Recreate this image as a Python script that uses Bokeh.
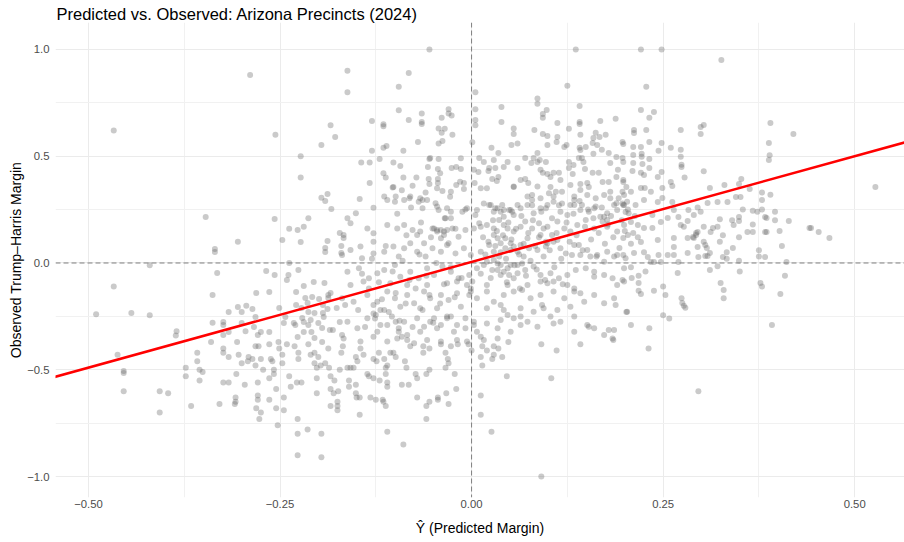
from bokeh.plotting import figure
from bokeh.models import FixedTicker, Span, Slope, ColumnDataSource, Range1d
from bokeh.embed import file_html
from bokeh.resources import INLINE

# ---------------- data ----------------
title_text = "Predicted vs. Observed: Arizona Precincts (2024)"
x_ticks = [-0.5, -0.25, 0.0, 0.25, 0.5]
x_tick_labels = ["\u22120.50", "\u22120.25", "0.00", "0.25", "0.50"]
x_minor = [-0.375, -0.125, 0.125, 0.375]
y_ticks = [-1.0, -0.5, 0.0, 0.5, 1.0]
y_tick_labels = ["\u22121.0", "\u22120.5", "0.0", "0.5", "1.0"]
y_minor = [-0.75, -0.25, 0.25, 0.75]

fit_intercept = 0.005
fit_slope = 0.99

# (predicted margin, observed margin) pairs, grouped by region of the chart
pts_left_tail = [
(-0.467,0.62),(-0.49,-0.24),(-0.467,-0.11),(-0.444,-0.234),(-0.42,-0.01),(-0.42,-0.245),
(-0.462,-0.43),(-0.454,-0.506),(-0.454,-0.515),(-0.454,-0.60),(-0.407,-0.60),(-0.396,-0.61),(-0.407,-0.70),
(-0.386,-0.34),(-0.385,-0.32),(-0.373,-0.49),(-0.373,-0.53),(-0.358,-0.42),(-0.358,-0.46),(-0.355,-0.50),
(-0.351,-0.51),(-0.355,-0.55),(-0.366,-0.67),(-0.34,-0.37),(-0.329,-0.66),(-0.324,-0.40),(-0.324,-0.42),
(-0.317,-0.44),(-0.306,-0.37),(-0.304,-0.43),(-0.324,-0.56),(-0.317,-0.56),(-0.307,-0.52),(-0.309,-0.66),
(-0.308,-0.65),(-0.308,-0.63),(-0.30,-0.47),(-0.296,-0.57),(-0.292,-0.46),(-0.291,-0.44),(-0.286,-0.45),
(-0.282,-0.48),(-0.279,-0.56),(-0.279,-0.62),(-0.279,-0.64),(-0.281,-0.68),(-0.275,-0.70),(-0.277,-0.73),
(-0.282,-0.39),(-0.278,-0.39),(-0.275,-0.45),(-0.272,-0.50),(-0.264,-0.38),(-0.262,-0.45),(-0.26,-0.46),
(-0.258,-0.50),(-0.258,-0.52),(-0.264,-0.54),(-0.264,-0.64),(-0.255,-0.59),(-0.255,-0.68),(-0.253,-0.76),
(-0.252,-0.37),(-0.251,-0.40),(-0.247,-0.43),(-0.247,-0.47),(-0.245,-0.63),(-0.245,-0.69),(-0.241,-0.38),
(-0.238,-0.53),(-0.236,-0.58),(-0.231,-0.39),(-0.228,-0.56),(-0.226,-0.42),(-0.226,-0.45),(-0.222,-0.56),
(-0.227,-0.73),(-0.227,-0.80),(-0.214,-0.78),(-0.227,-0.90),(-0.196,-0.80),(-0.196,-0.91),(-0.213,-0.38),
(-0.21,-0.43),(-0.205,-0.42),(-0.205,-0.47),(-0.202,-0.49),(-0.20,-0.44),(-0.202,-0.54),(-0.202,-0.61),
(-0.195,-0.37),(-0.197,-0.48),(-0.191,-0.47),(-0.187,-0.40),(-0.186,-0.49),(-0.184,-0.53),(-0.184,-0.59),
(-0.184,-0.67),(-0.179,-0.55),(-0.175,-0.65),(-0.175,-0.67),(-0.175,-0.69),(-0.18,-0.61),(-0.174,-0.60),
(-0.172,-0.50),(-0.17,-0.42),(-0.168,-0.39),
]

pts_lower_mid = [
(-0.162,-0.49),(-0.158,-0.49),(-0.154,-0.49),(-0.149,-0.46),(-0.151,-0.44),(-0.145,-0.40),(-0.141,-0.43),
(-0.16,-0.55),(-0.16,-0.58),(-0.151,-0.57),(-0.151,-0.61),(-0.15,-0.63),(-0.146,-0.63),(-0.146,-0.71),
(-0.136,-0.52),(-0.134,-0.53),(-0.128,-0.54),(-0.132,-0.63),(-0.125,-0.64),(-0.128,-0.45),(-0.121,-0.42),
(-0.124,-0.46),(-0.12,-0.55),(-0.116,-0.64),(-0.115,-0.65),(-0.112,-0.67),(-0.114,-0.45),(-0.112,-0.49),
(-0.112,-0.52),(-0.11,-0.48),(-0.11,-0.56),(-0.11,-0.58),(-0.106,-0.42),(-0.102,-0.42),(-0.099,-0.44),
(-0.11,-0.79),(-0.089,-0.85),(-0.091,-0.57),(-0.082,-0.57),(-0.087,-0.46),(-0.085,-0.49),(-0.08,-0.39),
(-0.073,-0.52),(-0.071,-0.54),(-0.071,-0.63),(-0.063,-0.39),(-0.063,-0.42),(-0.059,-0.52),(-0.055,-0.50),
(-0.055,-0.40),(-0.059,-0.67),(-0.059,-0.73),(-0.055,-0.65),(-0.044,-0.63),(-0.044,-0.64),(-0.04,-0.38),
(-0.034,-0.42),(-0.031,-0.45),(-0.03,-0.47),(-0.034,-0.49),(-0.033,-0.61),(-0.03,-0.66),(-0.027,-0.39),
(-0.022,-0.52),(-0.02,-0.59),(-0.018,-0.38),(-0.004,-0.38),(0.0,-0.41),(0.012,-0.62),(0.012,-0.71),
(0.014,-0.39),(0.012,-0.44),(0.014,-0.48),(0.02,-0.41),(0.026,-0.79),(0.027,-0.45),(0.029,-0.43),
(0.029,-0.39),(0.035,-0.40),(0.04,-0.44),(0.046,-0.53),(0.048,-0.37),(0.091,-0.38),(0.111,-0.41),
(0.104,-0.54),(0.091,-1.0),(0.142,-0.38),(0.185,-0.36),(0.231,-0.40),(0.296,-0.60),
]

pts_right = [
(0.527,0.356),(0.441,0.164),(0.443,0.164),(0.453,0.145),(0.467,0.117),(0.414,0.197),(0.405,0.08),
(0.409,-0.06),(0.403,-0.145),(0.392,-0.29),(0.396,0.24),(0.396,0.20),(0.402,0.15),(0.411,0.005),
(0.39,0.32),(0.379,0.33),(0.379,0.295),(0.379,0.25),(0.383,0.215),(0.385,0.211),(0.383,0.145),
(0.385,0.145),(0.375,0.06),(0.375,0.03),(0.383,0.028),(0.377,-0.094),(0.379,-0.11),(0.373,0.24),
(0.367,0.245),(0.36,0.145),(0.367,0.145),(0.367,0.18),(0.354,0.25),(0.349,0.215),(0.349,0.197),
(0.349,0.12),(0.349,0.01),(0.35,-0.04),(0.34,0.20),(0.342,0.178),(0.341,0.07),(0.328,0.13),(0.324,0.1),
(0.324,0.205),(0.321,0.17),(0.315,0.164),(0.312,0.145),(0.333,0.05),(0.333,0.02),(0.328,0.028),
(0.321,-0.015),(0.311,-0.033),(0.311,0.047),(0.308,0.033),(0.305,0.033),(0.307,0.07),(0.303,0.1),
(0.305,0.084),(0.296,0.028),(0.295,0.075),(0.295,0.145),(0.293,0.131),(0.29,0.117),(0.293,0.141),
(0.303,0.17),(0.299,0.24),(0.295,0.26),(0.289,0.122),(0.282,0.117),(0.282,0.047),(0.27,0.005),
(0.269,-0.047),(0.277,0.17),(0.273,0.178),(0.27,0.215),(0.282,0.197),(0.264,0.117),(0.264,0.075),
(0.264,0.037),(0.256,0.037),(0.244,0.037),(0.247,0.005),(0.238,0.005),(0.25,-0.11),(0.253,-0.15),
(0.238,-0.13),(0.274,-0.165),(0.275,-0.187),(0.277,-0.20),(0.279,-0.21),(0.25,-0.245),(0.258,-0.26),
(0.232,-0.305),(0.208,-0.29),(0.202,-0.23),(0.197,-0.08),(0.209,-0.07),(0.218,-0.06),(0.218,-0.094),
(0.218,-0.13),(0.221,-0.145),(0.208,-0.02),(0.227,-0.04),(0.234,0.005),(0.23,0.028),(0.225,0.05),
(0.212,0.047),(0.198,0.037),(0.325,-0.094),(0.329,-0.126),(0.329,-0.165),
(0.345,0.309),(0.351,0.309),(0.334,0.286),(0.321,0.286),(0.308,0.281),(0.262,0.286),(0.264,0.248),
(0.256,0.211),(0.247,0.192),(0.236,0.225),(0.236,0.164),(0.243,0.108),(0.225,0.164),(0.221,0.098),
(0.211,0.141),(0.204,0.131),(0.198,0.117),(0.217,0.178),(0.208,0.192),(0.201,0.239),(0.214,0.272),
(0.225,0.295),(0.198,0.272),(0.197,0.333),(0.208,0.333),(0.234,0.333),(0.243,0.286),(0.249,0.304),
(0.29,0.225),(0.283,0.248),
]

pts_top = [
(-0.289,0.88),(-0.256,0.60),(-0.184,0.645),(-0.178,0.59),(-0.196,0.553),(-0.223,0.50),(-0.223,0.40),
(-0.162,0.90),(-0.162,0.80),(-0.055,1.0),(-0.082,0.89),(-0.095,0.825),(0.136,1.0),(0.125,0.83),
(0.005,0.80),(-0.13,0.665),(-0.115,0.65),(-0.115,0.64),(-0.095,0.715),(-0.065,0.70),(-0.065,0.66),
(-0.065,0.651),(-0.082,0.67),(-0.03,0.72),(-0.03,0.70),(-0.026,0.69),(-0.039,0.68),(-0.043,0.63),
(-0.035,0.628),(-0.039,0.61),(-0.025,0.60),(-0.043,0.56),(-0.038,0.571),(0.005,0.72),(0.005,0.67),
(0.005,0.645),(0.001,0.565),(0.039,0.73),(0.039,0.66),(0.055,0.63),(0.055,0.604),(0.052,0.553),
(0.06,0.56),(0.086,0.77),(0.086,0.745),(0.098,0.716),(0.093,0.698),(0.093,0.68),(0.112,0.655),
(0.082,0.623),(0.093,0.604),(0.099,0.595),(0.112,0.590),(0.111,0.567),(0.099,0.553),(0.127,0.628),
(0.124,0.553),(0.121,0.543),(0.141,0.735),(0.141,0.66),(0.141,0.651),(0.142,0.60),(0.168,0.665),
(0.188,0.675),(0.162,0.61),(0.175,0.60),(0.167,0.59),(0.159,0.585),(0.158,0.562),(0.164,0.553),
(0.17,0.53),(0.179,0.515),(0.141,0.54),(0.149,0.543),(0.159,0.511),(0.197,0.567),(0.198,0.557),
(-0.07,0.567),(-0.089,0.525),(-0.115,0.54),(-0.111,0.548),(-0.13,0.525),(-0.12,0.487),(-0.144,0.47),
(-0.133,0.47),(-0.102,0.47),(-0.093,0.454),
(-0.115,0.42),(-0.112,0.40),(-0.089,0.40),(-0.133,0.375),(-0.102,0.356),(-0.055,0.487),(-0.054,0.492),
(-0.043,0.487),(-0.014,0.49),(-0.057,0.45),(-0.044,0.44),(-0.026,0.445),(-0.02,0.45),(-0.014,0.44),
(-0.056,0.393),(-0.055,0.37),(-0.044,0.393),(-0.044,0.375),(-0.02,0.365),(-0.01,0.375),(0.003,0.436),
(0.004,0.375),(0.01,0.492),(0.016,0.473),(0.009,0.426),(0.023,0.445),(0.026,0.54),(0.035,0.515),
(0.029,0.482),(0.031,0.445),(0.022,0.431),(0.027,0.393),(0.033,0.384),(0.035,0.403),(0.042,0.45),
(0.047,0.473),(0.055,0.356),(0.06,0.445),(0.064,0.389),(0.07,0.492),(0.07,0.393),(0.074,0.375),
(0.078,0.468),(0.081,0.492),(0.086,0.515),(0.086,0.473),(0.089,0.482),(0.09,0.436),(0.093,0.422),
(0.097,0.473),(0.099,0.417),(0.103,0.403),(0.107,0.422),(0.103,0.356),(0.114,0.422),(0.116,0.389),
(0.127,0.473),(0.127,0.445),(0.132,0.417),(0.129,0.365),(0.133,0.459),(0.14,0.492),(0.142,0.529),
(0.144,0.492),(0.146,0.473),(0.148,0.44),(0.142,0.37),(0.151,0.375),(0.153,0.356),(0.158,0.422),
(0.166,0.422),(0.171,0.379),(0.179,0.379),(0.181,0.468),(0.189,0.496),(0.191,0.436),(0.189,0.403),
(0.197,0.492),(0.198,0.473),(0.198,0.379),(0.202,0.356),
(0.221,1.0),(0.248,1.0),(0.326,0.95),(0.228,0.825),(0.221,0.716),(0.238,0.707),(0.232,0.68),
(0.212,0.623),(0.212,0.609),(0.228,0.623),(0.232,0.567),(0.248,0.562),(0.26,0.54),(0.273,0.623),
(0.273,0.53),(0.273,0.497),(0.274,0.46),(0.274,0.45),(0.278,0.40),(0.299,0.637),(0.303,0.646),
(0.299,0.604),(0.303,0.43),(0.311,0.351),(0.33,0.365),(0.349,0.370),(0.352,0.393),(0.363,0.346),
(0.39,0.655),(0.388,0.562),(0.389,0.505),(0.388,0.482),(0.42,0.604),
(0.211,0.543),(0.221,0.543),(0.222,0.511),(0.222,0.497),(0.211,0.506),(0.211,0.468),(0.223,0.464),
(0.232,0.487),(0.232,0.445),(0.244,0.525),(0.248,0.426),(0.21,0.431),(0.221,0.422),(0.225,0.412),
(0.243,0.403),(0.198,0.389),(0.221,0.351),(0.226,0.351),(0.249,0.351),(0.26,0.379),(0.262,0.36),
]

pts_left_mid = [
(-0.347,0.215),(-0.335,0.066),(-0.335,0.052),(-0.332,-0.047),(-0.305,0.10),(-0.338,-0.15),
(-0.338,-0.28),(-0.324,-0.276),(-0.324,-0.29),(-0.317,-0.23),(-0.305,-0.206),(-0.300,-0.23),
(-0.294,-0.20),(-0.286,-0.215),(-0.282,-0.253),(-0.300,-0.281),(-0.295,-0.32),(-0.284,-0.30),
(-0.281,-0.14),(-0.268,-0.037),(-0.257,-0.056),(-0.264,-0.136),(-0.257,0.206),(-0.247,0.108),
(-0.238,0.16),(-0.227,0.155),(-0.219,0.17),(-0.213,0.21),(-0.223,0.098),(-0.196,0.305),(-0.191,0.290),
(-0.188,0.323),(-0.183,0.253),(-0.188,0.103),(-0.191,0.07),(-0.191,0.052),(-0.172,0.141),(-0.167,0.117),
(-0.17,0.08),(-0.17,0.047),(-0.238,0.0),(-0.239,-0.056),(-0.241,-0.080),(-0.226,-0.033),(-0.219,-0.108),
(-0.206,-0.089),(-0.192,-0.094),(-0.229,-0.136),(-0.217,-0.164),(-0.208,-0.159),(-0.199,-0.169),
(-0.194,-0.197),(-0.187,-0.150),(-0.184,-0.141),(-0.187,-0.164),(-0.176,-0.211),(-0.229,-0.197),
(-0.222,-0.211),(-0.214,-0.187),(-0.213,-0.230),(-0.205,-0.234),(-0.194,-0.234),(-0.193,-0.253),
(-0.188,-0.216),(-0.243,-0.253),(-0.245,-0.281),(-0.232,-0.281),(-0.230,-0.290),(-0.221,-0.258),
(-0.219,-0.276),(-0.210,-0.267),(-0.213,-0.290),(-0.209,-0.323),(-0.200,-0.281),(-0.195,-0.304),
(-0.185,-0.314),(-0.181,-0.314),(-0.172,-0.276),(-0.169,-0.337),(-0.227,-0.346),(-0.219,-0.323),
(-0.205,-0.351),(-0.251,-0.211),(-0.264,-0.323),(-0.275,-0.323),(-0.279,-0.337),(-0.317,-0.323),
(-0.324,-0.337),
]

pts_core = [
(-0.103,0.353),(-0.077,0.362),(-0.114,0.311),(-0.088,0.295),(-0.064,0.295),(-0.045,0.35),(-0.038,0.337),
(-0.027,0.334),(-0.010,0.347),(0.012,0.35),(0.020,0.35),(0.055,0.358),(0.079,0.318),(0.086,0.358),
(0.101,0.326),(0.110,0.334),(0.118,0.334),(0.134,0.311),(0.142,0.342),(0.151,0.318),(0.162,0.303),
(0.173,0.318),(0.181,0.334),(0.192,0.303),(0.199,0.318),(0.203,0.287),
(-0.146,0.30),(-0.128,0.259),(-0.110,0.295),(-0.100,0.287),(-0.081,0.303),(-0.069,0.287),(-0.058,0.295),
(-0.045,0.264),(-0.032,0.256),(-0.027,0.209),(-0.012,0.240),(-0.006,0.256),(0.005,0.225),(0.010,0.186),
(0.016,0.279),(0.025,0.272),(0.031,0.256),(0.038,0.240),(0.042,0.217),(0.051,0.248),(0.055,0.225),
(0.064,0.256),(0.073,0.272),(0.081,0.233),(0.090,0.256),(0.099,0.272),(0.107,0.287),(0.116,0.240),
(0.125,0.225),(0.134,0.272),(0.142,0.248),(0.153,0.240),(0.162,0.264),(0.168,0.217),(0.177,0.233),
(0.186,0.272),(0.197,0.279),(0.205,0.233),(-0.151,0.233),(-0.162,0.209),(-0.158,0.186),
(-0.136,0.162),(-0.128,0.139),(-0.110,0.178),(-0.097,0.162),(-0.088,0.178),(-0.077,0.155),(-0.067,0.147),
(-0.051,0.162),(-0.045,0.155),(-0.036,0.147),(-0.025,0.162),(-0.017,0.123),(-0.008,0.155),(0.003,0.162),
(0.012,0.170),(0.020,0.178),(0.029,0.162),(0.036,0.201),(0.042,0.178),(0.047,0.162),(0.055,0.147),
(0.064,0.170),(0.070,0.194),(0.079,0.162),(0.088,0.186),(0.094,0.162),(0.105,0.131),(0.112,0.194),
(0.121,0.162),(0.129,0.147),(0.138,0.178),(0.149,0.201),(0.160,0.162),(0.171,0.194),(0.177,0.170),
(0.190,0.147),(0.199,0.178),(-0.167,0.131),(-0.145,0.077),(-0.128,0.10),
(-0.158,0.061),(-0.143,0.022),(-0.128,0.045),(-0.114,0.053),(-0.102,0.077),(-0.095,0.030),(-0.088,0.069),
(-0.080,0.092),(-0.071,0.053),(-0.060,0.030),(-0.051,0.069),(-0.040,0.053),(-0.030,0.092),(-0.021,0.045),
(-0.010,0.069),(-0.001,0.037),(0.012,0.053),(0.023,0.084),(0.029,0.053),(0.036,0.030),(0.044,0.069),
(0.051,0.092),(0.060,0.053),(0.068,0.030),(0.075,0.069),(0.086,0.061),(0.097,0.077),(0.107,0.10),
(0.116,0.069),(0.123,0.045),(0.131,0.037),(0.140,0.084),(0.151,0.061),(0.164,0.037),(0.177,0.053),
(0.190,0.037),(0.201,0.022),(-0.169,0.037),
(-0.162,-0.041),(-0.147,-0.025),(-0.134,-0.072),(-0.123,-0.048),(-0.114,-0.033),(-0.10,-0.009),
(-0.093,-0.064),(-0.080,-0.041),(-0.069,-0.072),(-0.058,-0.025),(-0.049,-0.056),(-0.038,-0.017),
(-0.027,-0.041),(-0.017,-0.072),(-0.003,-0.056),(0.007,-0.025),(0.016,-0.009),(0.027,-0.033),
(0.034,-0.002),(0.042,-0.041),(0.051,-0.009),(0.060,-0.048),(0.070,-0.033),(0.081,-0.017),(0.090,-0.056),
(0.103,-0.048),(0.114,-0.072),(0.125,-0.056),(0.136,-0.033),(0.149,-0.025),(0.160,-0.041),(0.173,-0.056),
(0.184,-0.072),(0.199,-0.087),(-0.141,-0.087),(-0.158,-0.103),(-0.106,-0.095),(-0.084,-0.103),
(-0.058,-0.103),(-0.032,-0.095),(-0.006,-0.103),(0.020,-0.103),(0.047,-0.103),(0.073,-0.103),(0.099,-0.095),
(-0.169,-0.165),(-0.154,-0.181),(-0.136,-0.15),(-0.123,-0.181),(-0.110,-0.134),(-0.10,-0.165),(-0.084,-0.15),
(-0.075,-0.189),(-0.062,-0.134),(-0.054,-0.165),(-0.040,-0.15),(-0.030,-0.173),(-0.019,-0.142),
(-0.001,-0.119),(-0.003,-0.15),(0.007,-0.165),(0.020,-0.134),(0.029,-0.181),(0.042,-0.15),(0.055,-0.134),
(0.066,-0.126),(0.077,-0.165),(0.090,-0.15),(0.107,-0.134),(0.121,-0.165),(0.134,-0.134),(0.147,-0.181),
(0.160,-0.15),(0.173,-0.189),(0.186,-0.165),(0.188,-0.197),(0.203,-0.228),(-0.165,-0.197),(-0.128,-0.197),
(-0.114,-0.22),(-0.093,-0.205),(-0.067,-0.212),(-0.045,-0.212),(-0.014,-0.205),(0.020,-0.212),
(0.042,-0.22),(0.064,-0.212),(0.092,-0.197),(0.112,-0.22),(0.129,-0.205),
(-0.162,-0.275),(-0.149,-0.306),(-0.136,-0.259),(-0.125,-0.244),(-0.119,-0.29),(-0.104,-0.251),
(-0.095,-0.306),(-0.088,-0.275),(-0.084,-0.337),(-0.071,-0.259),(-0.067,-0.322),(-0.054,-0.275),
(-0.045,-0.306),(-0.032,-0.259),(-0.023,-0.322),(-0.008,-0.259),(0.003,-0.29),(0.007,-0.322),
(0.020,-0.283),(0.034,-0.306),(0.038,-0.267),(0.051,-0.322),(0.064,-0.29),(0.086,-0.298),(0.107,-0.283),
(0.134,-0.322),(0.153,-0.298),(0.179,-0.314),(0.184,-0.353),(-0.167,-0.353),(-0.145,-0.368),
(-0.128,-0.345),(-0.110,-0.368),(-0.097,-0.353),(-0.075,-0.376),(-0.058,-0.361),(-0.040,-0.368),
(-0.019,-0.361),(-0.006,-0.368),(0.016,-0.361),(0.034,-0.353),
]

pts_core_extra = [
(-0.099,0.311),(-0.080,0.311),(-0.067,0.303),(-0.064,0.256),(-0.043,0.248),(-0.034,0.209),(-0.027,0.240),
(0.007,0.248),(0.023,0.272),(0.029,0.240),(0.034,0.256),(0.040,0.272),(0.042,0.248),(0.049,0.248),
(0.053,0.240),(0.060,0.272),(0.073,0.311),(0.079,0.295),(0.090,0.303),(0.097,0.256),(0.107,0.311),
(0.118,0.279),(0.129,0.272),(0.134,0.295),(0.144,0.272),(0.160,0.256),(0.173,0.217),(0.177,0.201),
(0.181,0.303),(0.190,0.248),(0.199,0.272),
(-0.049,0.162),(-0.045,0.147),(-0.040,0.155),(-0.036,0.131),(-0.032,0.155),(-0.071,0.131),(-0.062,0.092),
(-0.040,0.116),(-0.032,0.084),
(0.029,0.131),(0.034,0.116),(0.038,0.092),(0.044,0.116),(0.051,0.061),(0.055,0.077),(0.064,0.084),
(0.073,0.116),(0.090,0.131),(0.099,0.092),(0.112,0.108),(0.134,0.084),(0.142,0.037),(0.155,0.030),
(0.173,0.006),(0.186,0.030),
(0.020,0.006),(0.029,0.014),(0.038,-0.009),(0.047,-0.025),(0.049,-0.056),(0.055,-0.072),(0.038,-0.056),
(0.034,-0.033),(0.060,-0.009),(0.066,-0.002),
(-0.001,-0.134),(0.001,-0.087),(-0.019,-0.087),
(0.090,-0.087),(0.107,-0.087),(0.125,-0.103),(0.134,-0.119),(0.142,-0.142),(0.160,-0.064),(0.190,-0.103),
(0.199,-0.025),
(-0.128,-0.236),(-0.119,-0.22),(-0.099,-0.275),(-0.095,-0.322),(-0.091,-0.345),(-0.084,-0.361),
(-0.110,-0.29),(-0.123,-0.322),
(-0.062,-0.298),(-0.049,-0.259),(-0.040,-0.29),(-0.027,-0.251),(-0.019,-0.29),(-0.008,-0.306),
(0.003,-0.275),(0.012,-0.345),
(0.038,-0.197),(0.047,-0.244),(0.055,-0.259),(0.064,-0.251),(0.073,-0.275),(0.081,-0.228),(0.094,-0.212),
(0.103,-0.251),(0.116,-0.275),(0.134,-0.251),(0.151,-0.29),(0.160,-0.306),(0.173,-0.337),(0.186,-0.314),
]

pts_core_dense = [
(0.015,0.12),(0.022,0.10),(0.028,0.20),(0.033,0.15),(0.038,0.05),(0.041,0.13),(0.045,0.02),(0.048,0.19),
(0.052,0.11),(0.056,-0.01),(0.058,0.16),(0.062,0.04),(0.065,0.22),(0.068,0.09),(0.071,-0.06),(0.074,0.14),
(0.077,0.01),(0.080,0.20),(0.083,0.08),(0.085,-0.03),(0.088,0.12),(0.091,0.24),(0.094,0.03),(0.096,-0.08),
(0.099,0.17),(0.102,0.06),(0.105,0.21),(0.108,-0.02),(0.111,0.14),(0.114,0.27),(0.117,0.02),(0.119,-0.10),
(0.012,-0.05),(0.018,0.04),(0.025,-0.07),(0.031,0.08),(0.046,-0.09),(0.063,-0.12),(0.079,0.27),(0.097,0.10),
(0.124,0.19),(0.128,0.10),(0.133,0.23),(0.137,0.13),(0.141,0.29),(0.145,0.06),(0.148,0.17),(0.152,0.25),
(0.156,0.11),(0.159,0.21),(0.163,0.03),(0.166,0.14),(0.170,0.26),(0.174,0.09),(0.178,0.18),(0.182,0.22),
(0.185,0.12),(0.189,0.28),(0.193,0.07),(0.196,0.20),(0.200,0.15),(0.204,0.25),(0.208,0.09),(0.213,0.22),
(0.217,0.12),
(-0.148,-0.22),(-0.143,-0.05),(-0.139,-0.30),(-0.134,-0.12),(-0.130,0.02),(-0.126,-0.26),(-0.121,-0.09),
(-0.117,-0.17),(-0.112,0.08),(-0.108,-0.23),(-0.103,-0.04),(-0.099,-0.14),(-0.094,-0.27),(-0.090,0.01),
(-0.086,-0.19),(-0.081,-0.08),(-0.077,-0.30),(-0.073,-0.12),(-0.068,0.04),(-0.064,-0.22),(-0.059,-0.06),
(-0.055,-0.15),(-0.050,-0.28),(-0.046,0.00),(-0.041,-0.19),(-0.036,-0.10),(-0.032,-0.25),(-0.027,-0.02),
(-0.022,-0.16),(-0.013,-0.07),
(-0.097,0.23),(-0.091,0.34),(-0.085,0.13),(-0.079,0.26),(-0.072,0.40),(-0.066,0.19),(-0.060,0.33),
(-0.053,0.12),(-0.047,0.28),(-0.041,0.42),(-0.035,0.21),(-0.028,0.31),(-0.021,0.16),(-0.015,0.38),
(-0.008,0.25),
]

# ---------------- build the figure ----------------
all_pts = (pts_left_tail + pts_lower_mid + pts_right + pts_top + pts_left_mid
           + pts_core + pts_core_extra + pts_core_dense)
source = ColumnDataSource(data=dict(
    predicted=[p[0] for p in all_pts],
    observed=[p[1] for p in all_pts],
))

FONT = "Liberation Sans"

p = figure(width=904, height=542, output_backend="svg", toolbar_location=None,
           x_range=Range1d(-0.543, 0.565), y_range=Range1d(-1.098, 1.126),
           title=title_text)
p.min_border_left = 55
p.min_border_right = 0
p.min_border_top = 22
p.min_border_bottom = 45
p.outline_line_color = None
p.background_fill_color = "white"
p.border_fill_color = "white"

p.title.text_font = FONT
p.title.text_font_size = "16.5px"
p.title.text_font_style = "normal"
p.title.text_color = "black"
p.title.align = "left"
p.title.offset = 1
p.title.standoff = 0
p.title.vertical_align = "bottom"

p.xaxis.ticker = FixedTicker(ticks=x_ticks, minor_ticks=x_minor)
p.yaxis.ticker = FixedTicker(ticks=y_ticks, minor_ticks=y_minor)
p.xaxis.major_label_overrides = {t: l for t, l in zip(x_ticks, x_tick_labels)}
p.yaxis.major_label_overrides = {t: l for t, l in zip(y_ticks, y_tick_labels)}

for ax in (p.xaxis[0], p.yaxis[0]):
    ax.axis_line_color = None
    ax.major_tick_line_color = None
    ax.minor_tick_line_color = None
    ax.major_tick_out = 0
    ax.minor_tick_out = 0
    ax.major_label_text_color = "#4D4D4D"
    ax.major_label_text_font = FONT
    ax.major_label_text_font_size = "11.3px"
    ax.axis_label_text_font = FONT
    ax.axis_label_text_font_size = "14px"
    ax.axis_label_text_font_style = "normal"
    ax.axis_label_text_color = "black"
p.xaxis.major_label_standoff = 2
p.yaxis.major_label_standoff = 6
p.xaxis.axis_label = "\u0176 (Predicted Margin)"
p.yaxis.axis_label = "Observed Trump\u2013Harris Margin"
p.xaxis.axis_label_standoff = 9
p.yaxis.axis_label_standoff = 0

p.grid.grid_line_color = "#EBEBEB"
p.grid.grid_line_width = 1
p.grid.minor_grid_line_color = "#F1F1F1"
p.grid.minor_grid_line_width = 1

p.add_layout(Span(location=0, dimension="height", line_color="#7F7F7F",
                  line_dash="5 3", line_width=1))
p.add_layout(Span(location=0, dimension="width", line_color="#7F7F7F",
                  line_dash="5 3", line_width=1))

p.scatter("predicted", "observed", source=source, size=6,
          fill_color="#666666", fill_alpha=0.35, line_color=None)

p.add_layout(Slope(gradient=fit_slope, y_intercept=fit_intercept,
                   line_color="#FF0000", line_width=2.5))

open("out.html", "w").write(file_html(p, INLINE))
